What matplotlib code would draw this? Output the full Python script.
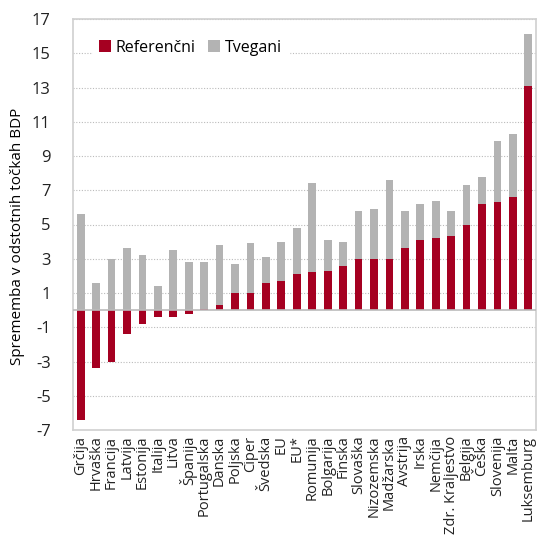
import matplotlib.pyplot as plt
import numpy as np

# Sprememba v odstotnih točkah BDP, po državah
drzave = ["Grčija", "Hrvaška", "Francija", "Latvija", "Estonija", "Italija",
          "Litva", "Španija", "Portugalska", "Danska", "Poljska", "Ciper",
          "Švedska", "EU", "EU*", "Romunija", "Bolgarija", "Finska",
          "Slovaška", "Nizozemska", "Madžarska", "Avstrija", "Irska",
          "Nemčija", "Zdr. Kraljestvo", "Belgija", "Češka", "Slovenija",
          "Malta", "Luksemburg"]
referencni = [-6.4, -3.4, -3.0, -1.4, -0.8, -0.4, -0.4, -0.2, 0.05, 0.3,
              1.0, 1.0, 1.6, 1.7, 2.1, 2.2, 2.3, 2.6, 3.0, 3.0, 3.0, 3.6,
              4.1, 4.2, 4.3, 5.0, 6.2, 6.3, 6.6, 13.1]
tvegani = [5.6, 1.6, 3.0, 3.6, 3.2, 1.4, 3.5, 2.8, 2.8, 3.8, 2.7, 3.9,
           3.1, 4.0, 4.8, 7.4, 4.1, 4.0, 5.8, 5.9, 7.6, 5.8, 6.2, 6.4,
           5.8, 7.3, 7.8, 9.9, 10.3, 16.1]
yticks = list(range(-7, 18, 2))

plt.rcParams['font.family'] = ['Open Sans', 'DejaVu Sans']

rdeca = '#A50021'
siva = '#B3B3B3'

fig = plt.figure(figsize=(5.38, 5.40), dpi=100)
ax = fig.add_axes([73/538, 1 - 430/540, 463/538, 411/540])

x = np.arange(len(drzave))
ax.bar(x, tvegani, width=0.5, color=siva, label="Tvegani", zorder=2)
ax.bar(x, referencni, width=0.5, color=rdeca, label="Referenčni", zorder=3)

ax.set_xlim(-0.5, len(drzave) - 0.5)
ax.set_ylim(-7, 17)
ax.set_yticks(yticks)
ax.set_yticklabels([str(t) for t in yticks], fontsize=12)
ax.set_xticks(x)
ax.set_xticklabels(drzave, rotation=90, fontsize=10.5)
ax.tick_params(axis='both', length=0, colors='#222222')
ax.tick_params(axis='y', pad=16)
ax.tick_params(axis='x', pad=4)

ax.grid(axis='y', linestyle=(0, (1, 1.5)), color='#BBBBBB', linewidth=0.8, zorder=0)
ax.axhline(0, color='#BBBBBB', linewidth=1.2, zorder=4)
for s in ax.spines.values():
    s.set_color('#D0D0D0')
    s.set_linewidth(1.2)

ax.set_ylabel("Sprememba v odstotnih točkah BDP", fontsize=11)
ax.yaxis.set_label_coords(-0.103, 0.47)

h, l = ax.get_legend_handles_labels()
leg = ax.legend(h[::-1], l[::-1], loc='upper left', ncol=2, frameon=True,
                fontsize=11.5, handlelength=0.75, handleheight=0.75,
                handletextpad=0.3, columnspacing=0.8,
                bbox_to_anchor=(0.025, 0.985))
leg.get_frame().set_edgecolor('white')
leg.get_frame().set_facecolor('white')
leg.get_frame().set_alpha(1)
leg.set_zorder(5)

fig.savefig("out.png", dpi=100)
